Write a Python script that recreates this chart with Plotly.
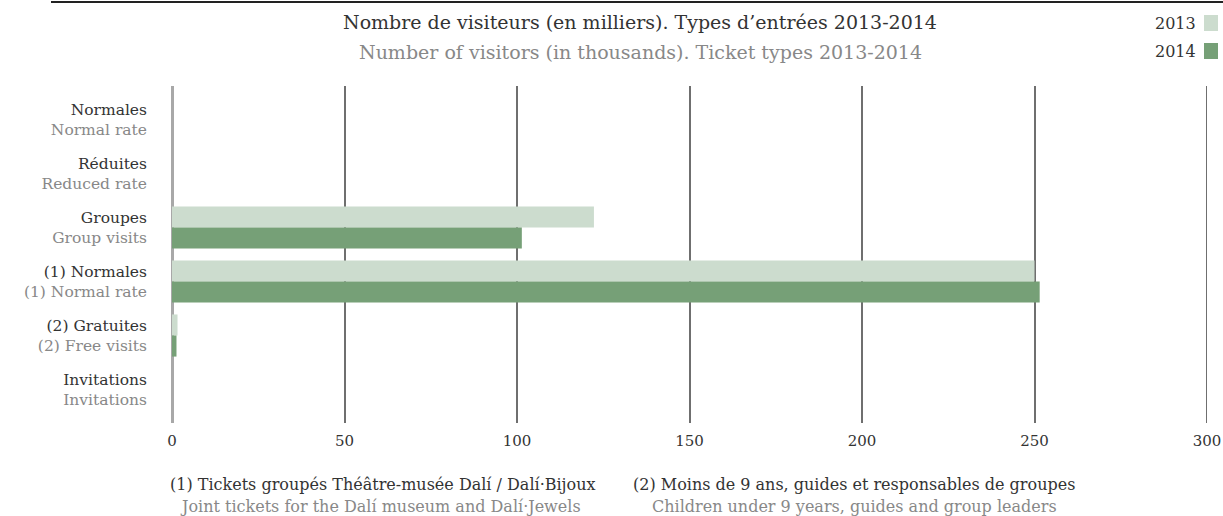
import plotly.graph_objects as go

categories_fr = ["Normales", "Réduites", "Groupes", "(1) Normales", "(2) Gratuites", "Invitations"]
categories_en = ["Normal rate", "Reduced rate", "Group visits", "(1) Normal rate", "(2) Free visits", "Invitations"]
values_2013 = [0, 0, 122.3, 250.0, 1.6, 0]
values_2014 = [0, 0, 101.4, 251.5, 1.3, 0]
x_ticks = [0, 50, 100, 150, 200, 250, 300]

title_fr = "Nombre de visiteurs (en milliers). Types d’entrées 2013-2014"
title_en = "Number of visitors (in thousands). Ticket types 2013-2014"
note1_fr = "(1) Tickets groupés Théâtre-musée Dalí / Dalí·Bijoux"
note1_en = "Joint tickets for the Dalí museum and Dalí·Jewels"
note2_fr = "(2) Moins de 9 ans, guides et responsables de groupes"
note2_en = "Children under 9 years, guides and group leaders"

C2013 = "#ccdcce"
C2014 = "#76a077"
DARK = "#333333"
GRAY = "#888888"
GRID = "#6f6f6f"
FONT = "DejaVu Serif"

ticktext = [f"<span style='color:{DARK}'>{a}</span><br><span style='color:{GRAY}'>{b}</span>"
            for a, b in zip(categories_fr, categories_en)]
ypos = list(range(len(categories_fr)))

fig = go.Figure()
fig.add_trace(go.Bar(y=ypos, x=values_2013, orientation="h", name="2013",
                     marker=dict(color=C2013, line=dict(width=0))))
fig.add_trace(go.Bar(y=ypos, x=values_2014, orientation="h", name="2014",
                     marker=dict(color=C2014, line=dict(width=0))))

L, R, T, B = 172, 1207, 86, 423

fig.update_layout(
    width=1223, height=516,
    margin=dict(l=L, r=1223 - R, t=T, b=516 - B, pad=0, autoexpand=False),
    paper_bgcolor="white", plot_bgcolor="white",
    barmode="group", bargap=0.22, bargroupgap=0,
    showlegend=False,
    font=dict(family=FONT, size=15, color=DARK),
)
fig.update_xaxes(range=[0, 300], tickvals=x_ticks, ticktext=[str(v) for v in x_ticks],
                 showgrid=True, gridcolor=GRID, gridwidth=2,
                 zeroline=True, zerolinecolor="#a8a8a8", zerolinewidth=3,
                 showline=False, ticks="", tickfont=dict(size=15, color=DARK),
                 ticklabelstandoff=7, fixedrange=True, automargin=False)
fig.update_yaxes(range=[5.62, -0.62], tickvals=ypos, ticktext=ticktext,
                 showgrid=False, zeroline=False, showline=False, ticks="",
                 tickfont=dict(size=15.5), ticklabelstandoff=24, automargin=False)

# gridline at the right edge of the axis (x = 300)
fig.add_shape(type="line", xref="x", yref="paper", x0=x_ticks[-1], x1=x_ticks[-1], y0=0, y1=1,
              line=dict(color=GRID, width=2), layer="below")

def px(x, y):
    return (x - L) / (R - L), (B - y) / (B - T)

def ann(x, y, text, color, size, xanchor="center"):
    xx, yy = px(x, y)
    fig.add_annotation(x=xx, y=yy, xref="paper", yref="paper", text=text, showarrow=False,
                       font=dict(size=size, color=color, family=FONT),
                       xanchor=xanchor, yanchor="middle")

ann(640, 22, title_fr, DARK, 19)
ann(640, 52, title_en, GRAY, 19)
ann(1198, 23, "2013", DARK, 16, "right")
ann(1198, 51, "2014", DARK, 16, "right")
ann(383, 484, note1_fr, DARK, 16)
ann(380, 506, note1_en, GRAY, 16)
ann(854, 484, note2_fr, DARK, 16)
ann(854, 506, note2_en, GRAY, 16)

def rect(x0, y0, x1, y1, color):
    a0, b0 = px(x0, y0)
    a1, b1 = px(x1, y1)
    fig.add_shape(type="rect", xref="paper", yref="paper", x0=a0, y0=b0, x1=a1, y1=b1,
                  fillcolor=color, line=dict(width=0), layer="above")

rect(1204, 15, 1218, 31, C2013)
rect(1204, 43, 1218, 59, C2014)
a0, b0 = px(51, 2)
a1, _ = px(1223, 2)
fig.add_shape(type="line", xref="paper", yref="paper", x0=a0, x1=a1, y0=b0, y1=b0,
              line=dict(color="#222222", width=2))

fig.write_html("out.html", config={"displayModeBar": False, "staticPlot": True},
               post_script="document.body.style.margin='0px';")
